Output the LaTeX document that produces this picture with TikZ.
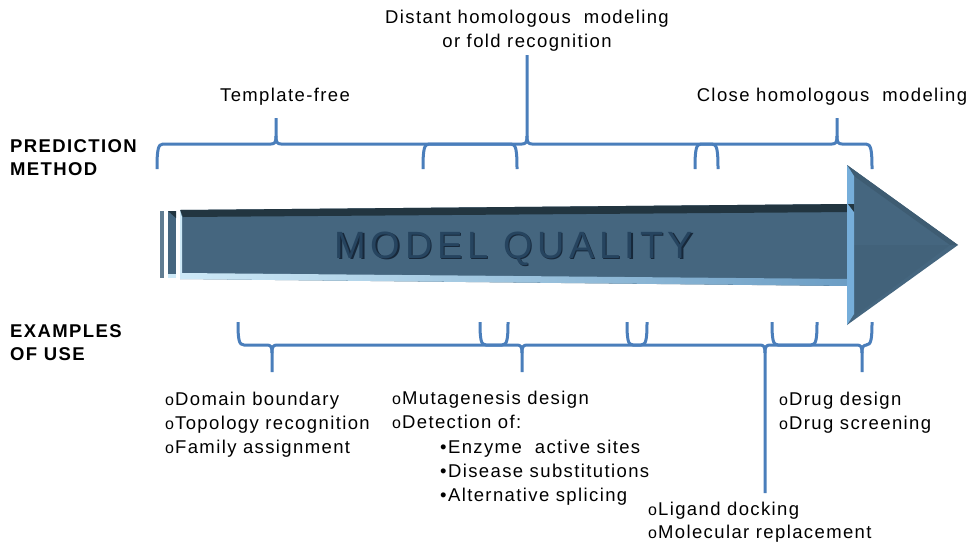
\documentclass[tikz,border=0pt]{standalone}
\usepackage{fontspec}
\setmainfont{Liberation Sans}[LetterSpace=7.5]
\newfontfamily\bannerfont{Liberation Sans}[LetterSpace=12]
\definecolor{bracecol}{HTML}{4A7EBB}
\definecolor{shaft}{HTML}{45667F}
\definecolor{shaftdark}{HTML}{223540}
\definecolor{bevel}{HTML}{76AEDA}
\definecolor{lightedgeL}{HTML}{CDE9F7}
\definecolor{lightedgeR}{HTML}{6B9DC4}
\definecolor{bannerink}{HTML}{26445F}
\definecolor{bannershade}{HTML}{17283A}

% brace opening downwards (towards the arrow), cusp pointing up
% #1 left end, #2 cusp x, #3 right end, #4 cusp tip y
\newcommand\upbrace[4]{%
  \draw[bracestyle] (#1,169) .. controls (#1,150) and (#1+1,144) .. (#1+6,144)
     -- (#2-5,144) .. controls (#2-1,144) and (#2,142) .. (#2,136) -- (#2,#4);
  \draw[bracestyle] (#2,136) .. controls (#2,142) and (#2+1,144) .. (#2+5,144)
     -- (#3-6,144) .. controls (#3-1,144) and (#3,150) .. (#3,169);}
% brace opening upwards, cusp pointing down
\newcommand\downbrace[4]{%
  \draw[bracestyle] (#1,322) .. controls (#1,340) and (#1+1,345) .. (#1+6,345)
     -- (#2-5,345) .. controls (#2-1,345) and (#2,347) .. (#2,353) -- (#2,#4);
  \draw[bracestyle] (#2,353) .. controls (#2,347) and (#2+1,345) .. (#2+5,345)
     -- (#3-6,345) .. controls (#3-1,345) and (#3,340) .. (#3,322);}

\begin{document}
\begin{tikzpicture}[x=1pt,y=-1pt,
  bracestyle/.style={draw=bracecol,line width=3pt,line join=round},
  txt/.style={inner sep=0pt,anchor=base west,font=\fontsize{18.5}{24}\selectfont},
  ctxt/.style={txt,anchor=base},
  head/.style={txt,font=\bfseries\fontsize{18.5}{24}\selectfont}]
\useasboundingbox (0,0) rectangle (971,544);
\fill[white] (0,0) rectangle (971,544);

% ---- side headings
\node[head] (pm1) at (10,152) {PREDICTION};
\node[head] (pm2) at (10,175) {METHOD};
\node[head] (eu1) at (10,337) {EXAMPLES};
\node[head] (eu2) at (10,360) {OF USE};

% ---- the arrow
% left stripes
\fill[fill=shaft!85!white] (160,211) rectangle (164,278);
\fill[fill=shaft] (168,211) rectangle (176,278);
\fill[fill=shaftdark] (168,211) -- (176,211) -- (176,218) -- cycle;
\fill[fill=lightedgeL] (168,274) rectangle (176,278);
% shaft
\fill[fill=shaft] (180,210) -- (848,204) -- (848,286) -- (180,279) -- cycle;
\fill[fill=shaftdark] (180,210) -- (848,204) -- (854,212) -- (183,217) -- cycle;
\shade[left color=lightedgeL,right color=lightedgeR] (180,273) -- (848,279) -- (854,286) -- (180,279) -- cycle;
\fill[fill=lightedgeL] (180,210) -- (182,217) -- (182,273) -- (180,279) -- cycle;
% head
\fill[fill=shaft] (847,165) -- (958,245) -- (847,325) -- cycle;
\fill[fill=shaft!96!black] (854,245) -- (950,245) -- (855,316) -- cycle;
\fill[fill=shaft!90!black] (847,165) -- (958,245) -- (950,245) -- (854,176) -- cycle;
\fill[fill=bevel] (847,165) -- (854,176) -- (854,314) -- (847,325) -- cycle;
\fill[fill=shaftdark] (848,204) -- (854,212) -- (854,204) -- cycle;
% engraved title
\node[inner sep=0pt,anchor=base,text=bannershade,font=\bannerfont\fontsize{38}{38}\selectfont] (mqs) at (515.5,259.5) {MODEL QUALITY};
\node[inner sep=0pt,anchor=base,text=bannerink,font=\bannerfont\fontsize{38}{38}\selectfont] (mq) at (514,258) {MODEL QUALITY};

% ---- prediction methods
\node[ctxt] (tf) at (285,101) {Template-free};
\node[ctxt] (dh1) at (527,23) {Distant homologous\ \ modeling};
\node[ctxt] (dh2) at (527,47) {or fold recognition};
\node[ctxt] (ch) at (832,101) {Close homologous\ \ modeling};

\upbrace{157}{276}{517}{118}
\upbrace{423}{527}{718}{55}
\upbrace{695}{837}{872}{118}

% ---- examples of use
\downbrace{238}{272}{508}{372}
\downbrace{480}{522}{647}{372}
\downbrace{627}{765}{817}{493}
\downbrace{772}{862}{872}{372}

\newcommand\smallo{{\fontsize{16}{16}\selectfont o}\kern1pt}
\node[txt] (a1) at (165,405) {\smallo Domain boundary};
\node[txt] (a2) at (165,429) {\smallo Topology recognition};
\node[txt] (a3) at (165,453) {\smallo Family assignment};

\node[txt] (b1) at (392,404) {\smallo Mutagenesis design};
\node[txt] (b2) at (392,428) {\smallo Detection of:};
\node[txt] (b3) at (440,453) {•Enzyme\ \ active sites};
\node[txt] (b4) at (440,477) {•Disease substitutions};
\node[txt] (b5) at (440,501) {•Alternative splicing};

\node[txt] (c1) at (648,515) {\smallo Ligand docking};
\node[txt] (c2) at (648,538) {\smallo Molecular replacement};

\node[txt] (d1) at (779,405) {\smallo Drug design};
\node[txt] (d2) at (779,429) {\smallo Drug screening};
\end{tikzpicture}
\end{document}
